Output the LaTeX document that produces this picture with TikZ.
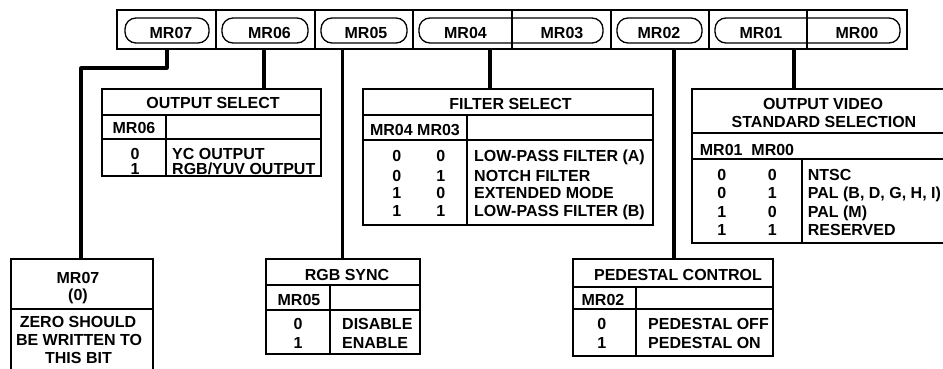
\documentclass[tikz,border=0pt]{standalone}
\usepackage{fontspec}
\setmainfont{Liberation Sans}
\begin{document}
\begin{tikzpicture}[x=1pt,y=-1pt,
  txt/.style={font=\bfseries\fontsize{16}{18}\selectfont,inner sep=0pt,text height=11.5pt,text depth=0pt},
  lt/.style={txt,anchor=west},
  bar/.style={line width=2pt},
  thin/.style={line width=1.2pt},
  pill/.style={line width=1.3pt,rounded corners=11pt},
  tbl/.style={line width=1.9pt},
  wire/.style={line width=3.2pt,line join=round}]
\useasboundingbox (0,0) rectangle (943,368);
% register bar
\draw[bar] (117,10) rectangle (907,49);
\foreach \x in {216,315,413,512,611,709,807} \draw[thin] (\x,10) -- (\x,49);
\draw[pill] (125,18) rectangle (209,43);
\draw[pill] (222,18) rectangle (308,43);
\draw[pill] (321,18) rectangle (407,43);
\draw[pill] (419,18) rectangle (603,43);
\draw[pill] (617,18) rectangle (702,43);
\draw[pill] (715,18) rectangle (900,43);
\node[txt] (b7) at (171,32.5) {MR07};
\node[txt] (b6) at (269.5,32.5) {MR06};
\node[txt] (b5) at (366,32.5) {MR05};
\node[txt] (b4) at (465.5,32.5) {MR04};
\node[txt] (b3) at (562,32.5) {MR03};
\node[txt] (b2) at (659,32.5) {MR02};
\node[txt] (b1) at (761,32.5) {MR01};
\node[txt] (b0) at (857,32.5) {MR00};
% connector anchor points
\coordinate (t7) at (167,49); \coordinate (k7) at (81,68);
\coordinate (t6) at (264,49); \coordinate (e6) at (264,89);
\coordinate (t5) at (342.5,49); \coordinate (e5) at (342.5,259);
\coordinate (t4) at (490,49); \coordinate (e4) at (490,89);
\coordinate (t2) at (674,49); \coordinate (e2) at (674,259);
\coordinate (t1) at (794,49); \coordinate (e1) at (794,89);
\coordinate (e7) at (81,259);
\draw[wire] (t7) |- (k7) -- (e7);
\draw[wire] (t6) -- (e6);
\draw[wire] (t5) -- (e5);
\draw[wire] (t4) -- (e4);
\draw[wire] (t2) -- (e2);
\draw[wire] (t1) -- (e1);
% OUTPUT SELECT
\draw[tbl] (102,89) rectangle (321,176);
\draw[tbl] (102,115) -- (321,115) (102,139) -- (321,139) (166,115) -- (166,176);
\node[txt] (os) at (213,103) {OUTPUT SELECT};
\node[txt] (osh) at (134,128) {MR06};
\node[txt] (os0) at (135,153.3) {0};
\node[txt] (os1) at (135,168.5) {1};
\node[lt] (ost0) at (172,153.3) {YC OUTPUT};
\node[lt] (ost1) at (172,168.5) {RGB/YUV OUTPUT};
% FILTER SELECT
\draw[tbl] (363,89) rectangle (653,225);
\draw[tbl] (363,115) -- (653,115) (363,140) -- (653,140) (467,115) -- (467,225);
\node[txt] (fs) at (510.5,104) {FILTER SELECT};
\node[txt] (fsh) at (415,130) {MR04 MR03};
\foreach \a/\b/\y/\t [count=\i] in {0/0/156/LOW-PASS FILTER (A),0/1/176/NOTCH FILTER,1/0/193/EXTENDED MODE,1/1/211/LOW-PASS FILTER (B)}{
  \node[txt] (fa\i) at (396.7,\y) {\a};
  \node[txt] (fb\i) at (440.7,\y) {\b};
  \node[lt] (ft\i) at (474,\y) {\t};
}
% OUTPUT VIDEO STANDARD SELECTION
\draw[tbl] (692,89) rectangle (954,243);
\draw[tbl] (692,133) -- (954,133) (692,159) -- (954,159) (802,159) -- (802,243);
\node[txt] (ov1) at (823,104) {OUTPUT VIDEO};
\node[txt] (ov2) at (824,122) {STANDARD SELECTION};
\node[txt] (ovh) at (747,149.5) {MR01\ \ MR00};
\foreach \a/\b/\y/\t [count=\i] in {0/0/174.7/NTSC,0/1/193/{PAL (B, D, G, H, I)},1/0/211.7/PAL (M),1/1/230/RESERVED}{
  \node[txt] (va\i) at (721.7,\y) {\a};
  \node[txt] (vb\i) at (772.3,\y) {\b};
  \node[lt] (vt\i) at (807.7,\y) {\t};
}
% MR07 box
\draw[tbl] (11,380) -- (11,259) -- (153,259) -- (153,380);
\draw[tbl] (11,309) -- (153,309);
\node[txt] (m7a) at (78,277.5) {MR07};
\node[txt] (m7b) at (78,295) {(0)};
\node[txt] (m7c) at (78,321.7) {ZERO SHOULD};
\node[txt] (m7d) at (79,339.8) {BE WRITTEN TO};
\node[txt] (m7e) at (78.5,357.5) {THIS BIT};
% RGB SYNC
\draw[tbl] (266,259) rectangle (420,354);
\draw[tbl] (266,285) -- (420,285) (266,310) -- (420,310) (330,285) -- (330,354);
\node[txt] (rs) at (347,274.5) {RGB SYNC};
\node[txt] (rsh) at (299,300) {MR05};
\node[txt] (rs0) at (298,323.8) {0};
\node[txt] (rs1) at (298,342.5) {1};
\node[lt] (rst0) at (342,323.8) {DISABLE};
\node[lt] (rst1) at (342,342.5) {ENABLE};
% PEDESTAL CONTROL
\draw[tbl] (573,259) rectangle (773,356);
\draw[tbl] (573,287) -- (773,287) (573,309) -- (773,309) (636,287) -- (636,356);
\node[txt] (pc) at (678,275) {PEDESTAL CONTROL};
\node[txt] (pch) at (603,299.7) {MR02};
\node[txt] (pc0) at (601.7,323.5) {0};
\node[txt] (pc1) at (601.7,342.5) {1};
\node[lt] (pct0) at (648,323.5) {PEDESTAL OFF};
\node[lt] (pct1) at (648,342.5) {PEDESTAL ON};
\end{tikzpicture}
\end{document}
